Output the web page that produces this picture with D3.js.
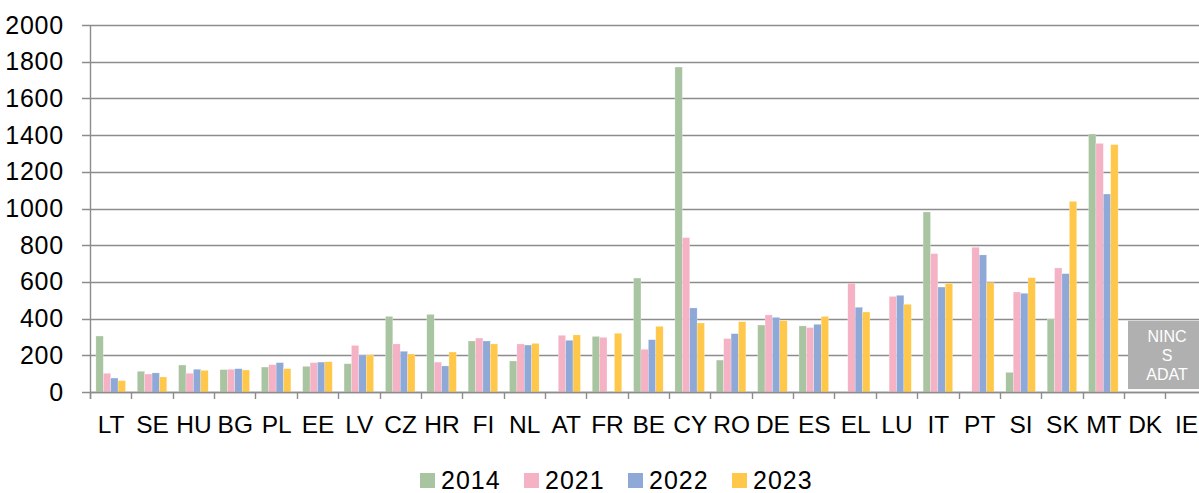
<!DOCTYPE html>
<html>
<head>
<meta charset="utf-8">
<script src="https://cdn.jsdelivr.net/npm/d3@7"></script>
<style>
  html, body { margin: 0; padding: 0; background: #fff; overflow: hidden; }
  svg { display: block; font-family: "Liberation Sans", Arial, sans-serif; }
</style>
</head>
<body>
<svg id="chart" width="1199" height="493"></svg>
<script>
const categories = ["LT","SE","HU","BG","PL","EE","LV","CZ","HR","FI","NL","AT","FR","BE","CY","RO","DE","ES","EL","LU","IT","PT","SI","SK","MT","DK","IE"];
const seriesNames = ["2014","2021","2022","2023"];
const v2014 = [305,113,147,122,136,140,154,412,423,278,169,null,303,621,1771,174,365,360,null,null,981,null,107,398,1406,null,null];
const v2021 = [102,98,102,124,149,160,254,262,163,294,262,309,298,233,841,291,420,351,593,521,754,789,545,676,1355,null,null];
const v2022 = [76,104,124,127,160,163,202,222,142,278,256,282,null,285,458,318,407,369,462,527,572,747,538,645,1079,null,null];
const v2023 = [62,82,118,120,127,165,202,207,218,262,265,311,320,358,376,383,389,412,436,478,592,596,623,1039,1348,null,null];
const yTicks = [0,200,400,600,800,1000,1200,1400,1600,1800,2000];
const noDataLabel = ["NINC","S","ADAT"];
const colors = ["#A9C4A0","#F5B2C5","#8EA9D7","#FFC84B"];

(function () {
const seriesValues = [v2014, v2021, v2022, v2023];
const svg = d3.select("#chart");
const mLeft = 90, mTop = 25, mBottom = 392, step = 41.36;
const mRight = mLeft + step * categories.length;

const x0 = d3.scaleBand().domain(categories).range([mLeft, mRight]).paddingInner(0).paddingOuter(0);
const x1 = d3.scaleBand().domain(seriesNames).range([5.9, x0.bandwidth() - 5.9]).padding(0);
const y = d3.scaleLinear().domain([0, 2000]).range([mBottom, mTop]);

// gridlines
svg.append("g").selectAll("line").data(yTicks).join("line")
  .attr("x1", mLeft - 8).attr("x2", 1199)
  .attr("y1", d => Math.round(y(d)) + 0.5).attr("y2", d => Math.round(y(d)) + 0.5)
  .attr("stroke", "#8c8c8c").attr("stroke-width", 1.4);

// y axis labels
const yAxis = svg.append("g").attr("transform", `translate(${mLeft},0)`)
  .call(d3.axisLeft(y).tickValues(yTicks).tickSize(0).tickPadding(26).tickFormat(d3.format("d")));
yAxis.select(".domain").remove();
yAxis.selectAll("text").attr("font-size", 25).attr("fill", "#000")
  .attr("font-family", "Liberation Sans, Arial, sans-serif").attr("letter-spacing", "0.8px");

// vertical axis line
svg.append("line").attr("x1", mLeft + 0.5).attr("x2", mLeft + 0.5)
  .attr("y1", mTop).attr("y2", mBottom + 7)
  .attr("stroke", "#8c8c8c").attr("stroke-width", 1.4);

// bars
const groups = svg.append("g").selectAll("g").data(categories).join("g")
  .attr("transform", d => `translate(${x0(d)},0)`);
groups.selectAll("rect")
  .data((c, i) => seriesNames.map((s, j) => ({ s, j, v: seriesValues[j][i] })).filter(d => d.v != null))
  .join("rect")
  .attr("x", d => x1(d.s))
  .attr("width", x1.bandwidth())
  .attr("y", d => y(d.v))
  .attr("height", d => y(0) - y(d.v))
  .attr("fill", d => colors[d.j])
  .attr("stroke", "#ffffff").attr("stroke-width", 0.4).attr("stroke-opacity", 0.6);

// baseline
svg.append("line").attr("x1", mLeft).attr("x2", 1199)
  .attr("y1", mBottom + 0.5).attr("y2", mBottom + 0.5)
  .attr("stroke", "#8c8c8c").attr("stroke-width", 1.4);

// x axis: tick marks at category boundaries and labels
const bounds = categories.map(c => x0(c));
svg.append("g").selectAll("line").data(bounds).join("line")
  .attr("x1", d => Math.round(d) + 0.5).attr("x2", d => Math.round(d) + 0.5)
  .attr("y1", mBottom).attr("y2", mBottom + 7)
  .attr("stroke", "#8c8c8c").attr("stroke-width", 1.4);
svg.append("g").selectAll("text").data(categories).join("text")
  .attr("x", d => x0(d) + x0.bandwidth() / 2 + 0.5)
  .attr("y", 432.5)
  .attr("text-anchor", "middle")
  .attr("font-size", 24.5).attr("fill", "#000")
  .text(d => d);

// no-data box over DK / IE
const boxX = x0("DK") + 4;
const box = svg.append("g");
box.append("rect").attr("x", boxX).attr("y", y(388))
  .attr("width", 77).attr("height", y(16) - y(388))
  .attr("fill", "#b0b0b0");
box.selectAll("text").data(noDataLabel).join("text")
  .attr("x", boxX + 39).attr("y", (d, i) => 342 + i * 19)
  .attr("text-anchor", "middle").attr("font-size", 16).attr("fill", "#fff")
  .text(d => d);

// legend
const legend = svg.append("g").selectAll("g").data(seriesNames).join("g")
  .attr("transform", (d, i) => `translate(${420 + i * 104},473)`);
legend.append("rect").attr("width", 15).attr("height", 15).attr("fill", (d, i) => colors[i]);
legend.append("text").attr("x", 21).attr("y", 15.5)
  .attr("font-size", 25).attr("letter-spacing", "1px").attr("fill", "#000")
  .text(d => d);
})();
</script>
</body>
</html>
